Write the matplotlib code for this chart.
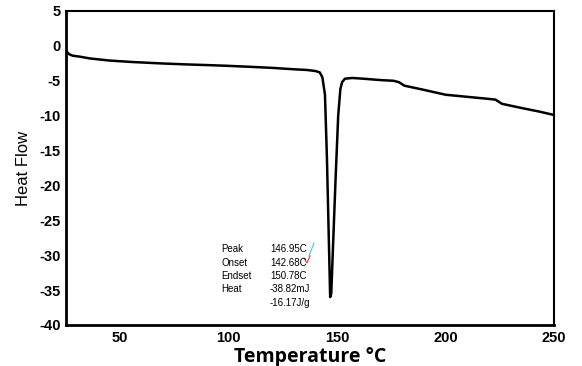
import matplotlib.pyplot as plt

# DSC curve
temperature = [25, 25.5, 26.5, 28, 31.5, 36, 45, 55, 68, 80, 90, 99, 110, 120, 130, 136,
               140, 142, 143.2, 144.4, 145.3, 146.2, 146.8, 147.3, 148.2, 149.3, 150.5,
               151.5, 152.3, 153.6, 157, 162, 170, 176, 178.5, 181, 190, 200, 210, 220,
               223, 226, 235, 243, 250]
heat_flow = [-0.6, -0.9, -1.2, -1.4, -1.55, -1.8, -2.1, -2.3, -2.5, -2.65, -2.75, -2.85,
             -3.0, -3.15, -3.35, -3.45, -3.6, -3.8, -4.5, -7.0, -16, -28, -36.0, -35.5,
             -28, -19, -10, -6.2, -5.2, -4.7, -4.6, -4.7, -4.9, -5.0, -5.2, -5.7, -6.3,
             -7.0, -7.3, -7.6, -7.7, -8.3, -8.9, -9.4, -9.9]

x_ticks = [50, 100, 150, 200, 250]
y_ticks = [5, 0, -5, -10, -15, -20, -25, -30, -35, -40]

labels = ["Peak", "Onset", "Endset", "Heat", ""]
values = ["146.95C", "142.68C", "150.78C", "-38.82mJ", "-16.17J/g"]

plt.rcParams['font.family'] = ['Liberation Sans', 'DejaVu Sans']
plt.rcParams['axes.unicode_minus'] = False

fig = plt.figure(figsize=(5.82, 3.66), dpi=100)
ax = fig.add_axes([66 / 582, 1 - 325 / 366, (554 - 66) / 582, (325 - 11) / 366])

ax.plot(temperature, heat_flow, color='black', lw=1.8)

ax.set_xlim(25, 250)
ax.set_ylim(-40, 5)
ax.set_xticks(x_ticks)
ax.set_yticks(y_ticks)
ax.tick_params(length=0, labelsize=10.5, pad=4)
for lab in ax.get_xticklabels() + ax.get_yticklabels():
    lab.set_fontweight('bold')

ax.spines['left'].set_linewidth(2)
ax.spines['bottom'].set_linewidth(2)
ax.spines['top'].set_linewidth(1.5)
ax.spines['right'].set_linewidth(1.5)

ax.set_ylabel("Heat Flow", fontsize=12, labelpad=6)
ax.set_xlabel("Temperature °C", fontsize=14, fontweight='bold',
              family=['Open Sans', 'DejaVu Sans'], labelpad=2)

# Annotation block from the instrument software
y0 = 249
for i, (lab, val) in enumerate(zip(labels, values)):
    yy = 1 - (y0 + i * 13.5) / 366
    fig.text(221 / 582, yy, lab, fontsize=7, va='center')
    fig.text(270 / 582, yy, val, fontsize=7, va='center')

fig.lines.append(plt.Line2D([314 / 582, 309 / 582], [1 - 243 / 366, 1 - 256 / 366],
                            transform=fig.transFigure, color='#40c8d8', lw=0.8))
fig.lines.append(plt.Line2D([304 / 582, 307 / 582, 310 / 582],
                            [1 - 258 / 366, 1 - 263 / 366, 1 - 256 / 366],
                            transform=fig.transFigure, color='#d04040', lw=0.8))

fig.savefig("out.png", dpi=100)
